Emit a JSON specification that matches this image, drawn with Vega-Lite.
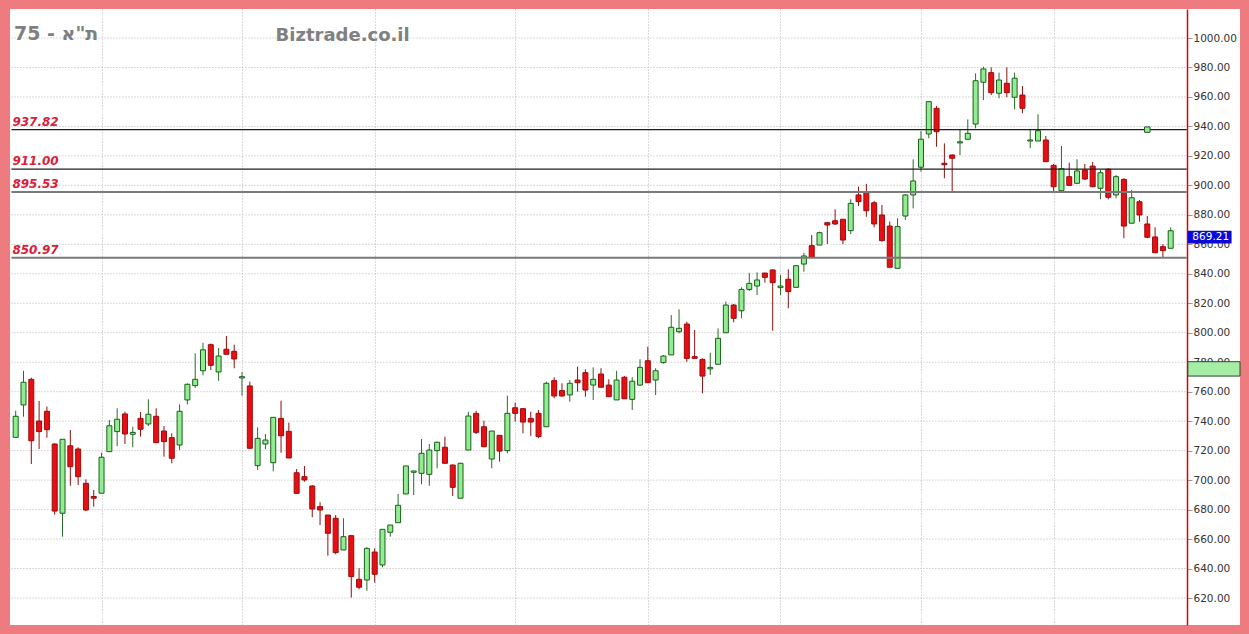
{
  "$schema": "https://vega.github.io/schema/vega-lite/v6.json",
  "width": 1230,
  "height": 616,
  "autosize": {"type": "none"},
  "padding": {"left": 10, "top": 9, "right": 9, "bottom": 9},
  "background": "#ee7b80",
  "config": {
    "view": {"fill": "white", "stroke": null},
    "font": "DejaVu Sans",
    "axis": {"labelOverlap": false, "labelBound": false, "labelFlush": false},
    "axisY": {"labelOverlap": false, "labelFontSize": 10.5, "labelColor": "#333333", "tickColor": "#9a9a9a", "tickSize": 5, "labelPadding": 1, "domainColor": "#e00000", "domainWidth": 1.5}
  },
  "title": {"text": "75 - ת\"א", "anchor": "start", "frame": "group", "orient": "top", "offset": 0, "baseline": "alphabetic", "dx": 4, "dy": 50, "fontSize": 19, "fontWeight": "bold", "color": "#7f7f7f", "font": "DejaVu Sans"},
  "datasets": {
    "candles": [
      {"i":0,"o":729,"h":747.1,"l":729,"c":743.3},
      {"i":1,"o":751,"h":774.2,"l":743,"c":766.4},
      {"i":2,"o":768.4,"h":769.5,"l":710.9,"c":726.7},
      {"i":3,"o":740.1,"h":753.7,"l":721.1,"c":732.9},
      {"i":4,"o":746.7,"h":749.9,"l":728.8,"c":734.2},
      {"i":5,"o":724.5,"h":725,"l":676.5,"c":679},
      {"i":6,"o":677.5,"h":727.7,"l":661.6,"c":727.7},
      {"i":7,"o":723.3,"h":734,"l":696.2,"c":709.1},
      {"i":8,"o":721.1,"h":722.3,"l":696.7,"c":702.3},
      {"i":9,"o":697.8,"h":700.5,"l":679,"c":679.7},
      {"i":10,"o":688.9,"h":693.3,"l":682,"c":687.7},
      {"i":11,"o":691.1,"h":718.6,"l":691.1,"c":715.5},
      {"i":12,"o":719.3,"h":740.8,"l":719.3,"c":736.9},
      {"i":13,"o":732.9,"h":748.7,"l":723.1,"c":741.3},
      {"i":14,"o":744.9,"h":746.4,"l":724.5,"c":731.3},
      {"i":15,"o":731.1,"h":736.2,"l":722.3,"c":732.4},
      {"i":16,"o":741.9,"h":746.2,"l":729.5,"c":734.5},
      {"i":17,"o":738.1,"h":754.8,"l":736.7,"c":744.7},
      {"i":18,"o":743.3,"h":748.7,"l":725.4,"c":725.4},
      {"i":19,"o":733.3,"h":736.7,"l":715.9,"c":726.1},
      {"i":20,"o":728.8,"h":731.8,"l":711.4,"c":714.8},
      {"i":21,"o":723.8,"h":751.4,"l":720.4,"c":746.7},
      {"i":22,"o":754.4,"h":765.7,"l":751.4,"c":765},
      {"i":23,"o":764.1,"h":786,"l":762.7,"c":768.4},
      {"i":24,"o":774.2,"h":793.2,"l":771.1,"c":788.4},
      {"i":25,"o":791.9,"h":792.7,"l":774.7,"c":777.9},
      {"i":26,"o":773.4,"h":789.6,"l":767.4,"c":784.2},
      {"i":27,"o":788.8,"h":797.8,"l":785.4,"c":785.4},
      {"i":28,"o":787.4,"h":791.9,"l":775.9,"c":782.2},
      {"i":29,"o":769.3,"h":773.4,"l":757.3,"c":770.2},
      {"i":30,"o":763.9,"h":766.8,"l":721.6,"c":721.6},
      {"i":31,"o":709.8,"h":735.8,"l":706.9,"c":728.3},
      {"i":32,"o":724.5,"h":731.3,"l":720.9,"c":727.2},
      {"i":33,"o":711.8,"h":742.6,"l":706,"c":742.6},
      {"i":34,"o":741.9,"h":753.9,"l":718.6,"c":730.1},
      {"i":35,"o":733.1,"h":739,"l":715,"c":715},
      {"i":36,"o":705,"h":707.5,"l":691,"c":691},
      {"i":37,"o":702.3,"h":709.6,"l":698.9,"c":700.1},
      {"i":38,"o":696,"h":696.7,"l":674.8,"c":680.4},
      {"i":39,"o":682,"h":685,"l":669.5,"c":679.7},
      {"i":40,"o":676.3,"h":676.3,"l":648.7,"c":663.9},
      {"i":41,"o":674.1,"h":676.3,"l":649.7,"c":650.8},
      {"i":42,"o":652.6,"h":674.1,"l":652.6,"c":661.6},
      {"i":43,"o":662.3,"h":662.8,"l":620.3,"c":634.5},
      {"i":44,"o":632.7,"h":640.2,"l":625.9,"c":627.3},
      {"i":45,"o":632.2,"h":654.4,"l":624.9,"c":653.7},
      {"i":46,"o":651.2,"h":653.7,"l":630.4,"c":636.1},
      {"i":47,"o":642.4,"h":666.6,"l":640.8,"c":666.6},
      {"i":48,"o":664.6,"h":669.5,"l":661.6,"c":669.5},
      {"i":49,"o":671.1,"h":690.6,"l":671.1,"c":682.9},
      {"i":50,"o":690.6,"h":709.6,"l":690.6,"c":709.6},
      {"i":51,"o":705.3,"h":706.2,"l":689.9,"c":706.2},
      {"i":52,"o":704.6,"h":727.9,"l":697.2,"c":718.2},
      {"i":53,"o":703.9,"h":724.5,"l":696.2,"c":720.4},
      {"i":54,"o":720,"h":726.1,"l":708,"c":725.7},
      {"i":55,"o":722.3,"h":729.5,"l":711.4,"c":711.4},
      {"i":56,"o":710.2,"h":710.7,"l":689.2,"c":695.1},
      {"i":57,"o":687.7,"h":711.8,"l":687.7,"c":711.4},
      {"i":58,"o":720.4,"h":746.4,"l":720.4,"c":743.5},
      {"i":59,"o":745.3,"h":747.1,"l":731.3,"c":732.4},
      {"i":60,"o":736.2,"h":740.3,"l":722.3,"c":722.7},
      {"i":61,"o":714.3,"h":733.5,"l":708,"c":733.3},
      {"i":62,"o":730.4,"h":730.6,"l":712.5,"c":719.7},
      {"i":63,"o":720,"h":757.3,"l":718.2,"c":745.3},
      {"i":64,"o":749.1,"h":752.5,"l":739.6,"c":745.3},
      {"i":65,"o":748.5,"h":748.7,"l":731.8,"c":739.4},
      {"i":66,"o":741.9,"h":746.4,"l":730,"c":739.4},
      {"i":67,"o":745.3,"h":747.6,"l":728.4,"c":729.5},
      {"i":68,"o":736.2,"h":766.8,"l":736.2,"c":765.7},
      {"i":69,"o":767.5,"h":769.8,"l":755.5,"c":757.1},
      {"i":70,"o":760.7,"h":765.7,"l":756.6,"c":757.1},
      {"i":71,"o":757.8,"h":767.9,"l":753.2,"c":765.7},
      {"i":72,"o":767.9,"h":777,"l":760,"c":766.1},
      {"i":73,"o":772.9,"h":775.2,"l":756.6,"c":761.1},
      {"i":74,"o":764.5,"h":776.5,"l":754.4,"c":768.4},
      {"i":75,"o":772,"h":775.9,"l":763,"c":763},
      {"i":76,"o":764.5,"h":768.4,"l":756.6,"c":756.6},
      {"i":77,"o":754.4,"h":774.2,"l":754.4,"c":767.9},
      {"i":78,"o":769.8,"h":770.6,"l":755.2,"c":755.2},
      {"i":79,"o":754.8,"h":769.8,"l":747.6,"c":767.1},
      {"i":80,"o":764.5,"h":782,"l":763.9,"c":776.5},
      {"i":81,"o":781,"h":790.5,"l":766.1,"c":766.1},
      {"i":82,"o":767.9,"h":775.9,"l":757.7,"c":774.2},
      {"i":83,"o":779.7,"h":784.9,"l":779,"c":784.2},
      {"i":84,"o":785,"h":812,"l":784.9,"c":803.7},
      {"i":85,"o":800.7,"h":815.9,"l":799.6,"c":803},
      {"i":86,"o":805.9,"h":807.5,"l":780.3,"c":782.6},
      {"i":87,"o":783.8,"h":801.9,"l":782.6,"c":782.6},
      {"i":88,"o":781.9,"h":782.6,"l":758.9,"c":770.6},
      {"i":89,"o":775.5,"h":786.4,"l":771.3,"c":776.5},
      {"i":90,"o":778.6,"h":803,"l":778.6,"c":796.2},
      {"i":91,"o":800,"h":821.1,"l":800,"c":818.8},
      {"i":92,"o":818.8,"h":819.5,"l":807.1,"c":809.8},
      {"i":93,"o":814.9,"h":830.8,"l":809.8,"c":829.4},
      {"i":94,"o":829.4,"h":840.7,"l":828.3,"c":833.5},
      {"i":95,"o":831.7,"h":841,"l":825.6,"c":835.8},
      {"i":96,"o":840.5,"h":840.7,"l":834,"c":837.6},
      {"i":97,"o":842.6,"h":843,"l":801.4,"c":834},
      {"i":98,"o":830.6,"h":839.2,"l":825.6,"c":831.7},
      {"i":99,"o":836.3,"h":843,"l":816.6,"c":827.9},
      {"i":100,"o":830.8,"h":846,"l":830.8,"c":845.5},
      {"i":101,"o":846.6,"h":854.3,"l":841.4,"c":852.1},
      {"i":102,"o":859.1,"h":866.3,"l":851.2,"c":851.2},
      {"i":103,"o":859.5,"h":868.6,"l":859.5,"c":867.9},
      {"i":104,"o":874.7,"h":874.7,"l":860.2,"c":873.1},
      {"i":105,"o":876,"h":883.8,"l":873.1,"c":873.8},
      {"i":106,"o":877,"h":877,"l":860.2,"c":862.9},
      {"i":107,"o":869.3,"h":890.6,"l":867,"c":887.8},
      {"i":108,"o":893.5,"h":899.1,"l":886,"c":889},
      {"i":109,"o":895.3,"h":901,"l":878.7,"c":882.8},
      {"i":110,"o":888.2,"h":889.5,"l":871.5,"c":873.8},
      {"i":111,"o":879.9,"h":886.7,"l":861.8,"c":862.5},
      {"i":112,"o":872.4,"h":875.4,"l":844.4,"c":844.4},
      {"i":113,"o":843.7,"h":877.7,"l":843.7,"c":872},
      {"i":114,"o":879.2,"h":894.1,"l":876.5,"c":893.5},
      {"i":115,"o":893.5,"h":917.7,"l":884.4,"c":903},
      {"i":116,"o":912.3,"h":936.9,"l":909.3,"c":931.3},
      {"i":117,"o":934.9,"h":956.8,"l":932,"c":956.8},
      {"i":118,"o":952.3,"h":953.9,"l":926.2,"c":936.4},
      {"i":119,"o":915,"h":928.5,"l":904.8,"c":914},
      {"i":120,"o":920.6,"h":921.1,"l":895.7,"c":918.4},
      {"i":121,"o":928.8,"h":938,"l":920.6,"c":929.6},
      {"i":122,"o":931.3,"h":944.8,"l":931.3,"c":935.3},
      {"i":123,"o":941.6,"h":976,"l":938.7,"c":971},
      {"i":124,"o":970,"h":980.5,"l":957.9,"c":979},
      {"i":125,"o":976.5,"h":980.1,"l":961.3,"c":962.9},
      {"i":126,"o":962.5,"h":976.5,"l":959.1,"c":971.5},
      {"i":127,"o":969.3,"h":980.1,"l":959.8,"c":962.9},
      {"i":128,"o":959.8,"h":976.5,"l":951.6,"c":972.7},
      {"i":129,"o":961.3,"h":967.4,"l":948.9,"c":952.3},
      {"i":130,"o":930.1,"h":938,"l":925.2,"c":930.8},
      {"i":131,"o":930.1,"h":948.2,"l":930.1,"c":937.1},
      {"i":132,"o":930.8,"h":933.5,"l":916.1,"c":916.1},
      {"i":133,"o":913.6,"h":914.5,"l":895.7,"c":899.1},
      {"i":134,"o":896.4,"h":926.7,"l":895.7,"c":911.3},
      {"i":135,"o":905.9,"h":915.4,"l":899.6,"c":900},
      {"i":136,"o":901.4,"h":917.7,"l":900.9,"c":909.8},
      {"i":137,"o":910.4,"h":914.5,"l":903.6,"c":904.3},
      {"i":138,"o":913.1,"h":915.9,"l":898.7,"c":899.1},
      {"i":139,"o":898,"h":910.4,"l":890.5,"c":908.6},
      {"i":140,"o":910.9,"h":911.6,"l":890.5,"c":891.9},
      {"i":141,"o":893.5,"h":907,"l":891.2,"c":905.9},
      {"i":142,"o":904.1,"h":904.8,"l":864.1,"c":872.4},
      {"i":143,"o":874.3,"h":896.9,"l":874.3,"c":891.6},
      {"i":144,"o":888.9,"h":890.1,"l":875.3,"c":879.9},
      {"i":145,"o":873.8,"h":879.2,"l":864.1,"c":864.8},
      {"i":146,"o":865,"h":871.5,"l":853.9,"c":854.3},
      {"i":147,"o":858.4,"h":860.2,"l":851.2,"c":855.7},
      {"i":148,"o":857.3,"h":871.5,"l":857.3,"c":869.21}
    ],
    "levels": [
      {"v": 937.82, "type": "A"},
      {"v": 911.00, "type": "A"},
      {"v": 895.53, "type": "B"},
      {"v": 850.97, "type": "B"}
    ],
    "ygrid": [
      {"v":620},{"v":640},{"v":660},{"v":680},{"v":700},{"v":720},{"v":740},{"v":760},{"v":780},{"v":800},
      {"v":820},{"v":840},{"v":860},{"v":880},{"v":900},{"v":920},{"v":940},{"v":960},{"v":980},{"v":1000}
    ],
    "signals": [{"i": 145, "v": 937.82}]
  },
  "layer": [
    {
      "data": {"name": "ygrid"},
      "mark": {"type": "rule", "color": "#b4b4b4", "strokeWidth": 1, "strokeDash": [1, 2]},
      "encoding": {
        "x": {"datum": -0.55, "type": "quantitative", "scale": {"domain": [-0.73, 156.88], "nice": false, "zero": false, "padding": 0}, "axis": {"values": [11, 29, 46, 64, 81, 98, 116, 133], "grid": true, "gridDash": [1, 2], "gridColor": "#b4b4b4", "gridWidth": 1, "labels": false, "ticks": false, "domain": false, "title": null}},
        "x2": {"datum": 150.05},
        "y": {"field": "v", "type": "quantitative", "scale": {"domain": [601.68, 1019.68], "nice": false, "zero": false, "padding": 0}, "axis": {"orient": "right", "offset": -53, "values": [620, 640, 660, 680, 700, 720, 740, 760, 780, 800, 820, 840, 860, 880, 900, 920, 940, 960, 980, 1000], "format": ".2f", "grid": false, "labelOverlap": false, "labelBound": false, "labelFlush": false, "title": null}}
      }
    },
    {
      "data": {"name": "candles"},
      "mark": {"type": "rule", "strokeWidth": 1},
      "encoding": {
        "x": {"field": "i", "type": "quantitative", "axis": {"values": [11, 29, 46, 64, 81, 98, 116, 133], "grid": true, "gridDash": [1, 2], "gridColor": "#b4b4b4", "gridWidth": 1, "labels": false, "ticks": false, "domain": false, "title": null}},
        "y": {"field": "l", "type": "quantitative", "axis": {"orient": "right", "offset": -53, "values": [620, 640, 660, 680, 700, 720, 740, 760, 780, 800, 820, 840, 860, 880, 900, 920, 940, 960, 980, 1000], "format": ".2f", "grid": false, "labelOverlap": false, "labelBound": false, "labelFlush": false, "title": null}},
        "y2": {"field": "h"},
        "color": {"condition": {"test": "datum.c >= datum.o", "value": "#2a6a2a"}, "value": "#8a1010"}
      }
    },
    {
      "data": {"name": "candles"},
      "mark": {"type": "bar", "size": 5, "strokeWidth": 1},
      "encoding": {
        "x": {"field": "i", "type": "quantitative", "axis": {"values": [11, 29, 46, 64, 81, 98, 116, 133], "grid": true, "gridDash": [1, 2], "gridColor": "#b4b4b4", "gridWidth": 1, "labels": false, "ticks": false, "domain": false, "title": null}},
        "y": {"field": "o", "type": "quantitative", "axis": {"orient": "right", "offset": -53, "values": [620, 640, 660, 680, 700, 720, 740, 760, 780, 800, 820, 840, 860, 880, 900, 920, 940, 960, 980, 1000], "format": ".2f", "grid": false, "labelOverlap": false, "labelBound": false, "labelFlush": false, "title": null}},
        "y2": {"field": "c"},
        "fill": {"condition": {"test": "datum.c >= datum.o", "value": "#90ee90"}, "value": "#e60f14"},
        "stroke": {"condition": {"test": "datum.c >= datum.o", "value": "#1d5e1d"}, "value": "#9e0a0a"}
      }
    },
    {
      "data": {"name": "levels"},
      "mark": {"type": "rule"},
      "encoding": {
        "x": {"datum": -0.55, "type": "quantitative", "axis": {"values": [11, 29, 46, 64, 81, 98, 116, 133], "grid": true, "gridDash": [1, 2], "gridColor": "#b4b4b4", "gridWidth": 1, "labels": false, "ticks": false, "domain": false, "title": null}},
        "x2": {"datum": 150.05},
        "y": {"field": "v", "type": "quantitative", "axis": {"orient": "right", "offset": -53, "values": [620, 640, 660, 680, 700, 720, 740, 760, 780, 800, 820, 840, 860, 880, 900, 920, 940, 960, 980, 1000], "format": ".2f", "grid": false, "labelOverlap": false, "labelBound": false, "labelFlush": false, "title": null}},
        "color": {"condition": {"test": "datum.type === 'A'", "value": "#1e1e1e"}, "value": "#7a7a7a"},
        "strokeWidth": {"condition": {"test": "datum.type === 'A'", "value": 1.2}, "value": 2}
      }
    },
    {
      "data": {"name": "levels"},
      "mark": {"type": "text", "align": "left", "baseline": "alphabetic", "dx": 1, "dy": -4, "font": "DejaVu Sans", "fontSize": 12, "fontWeight": "bold", "fontStyle": "italic", "color": "#d81e3a"},
      "encoding": {
        "x": {"datum": -0.55, "type": "quantitative", "axis": {"values": [11, 29, 46, 64, 81, 98, 116, 133], "grid": true, "gridDash": [1, 2], "gridColor": "#b4b4b4", "gridWidth": 1, "labels": false, "ticks": false, "domain": false, "title": null}},
        "y": {"field": "v", "type": "quantitative", "axis": {"orient": "right", "offset": -53, "values": [620, 640, 660, 680, 700, 720, 740, 760, 780, 800, 820, 840, 860, 880, 900, 920, 940, 960, 980, 1000], "format": ".2f", "grid": false, "labelOverlap": false, "labelBound": false, "labelFlush": false, "title": null}},
        "text": {"field": "v", "type": "quantitative", "format": ".2f"}
      }
    },
    {
      "data": {"name": "signals"},
      "mark": {"type": "point", "shape": "square", "filled": true, "size": 30, "fill": "#90ee90", "stroke": "#2a5a2a", "strokeWidth": 1, "opacity": 1},
      "encoding": {
        "x": {"field": "i", "type": "quantitative", "axis": {"values": [11, 29, 46, 64, 81, 98, 116, 133], "grid": true, "gridDash": [1, 2], "gridColor": "#b4b4b4", "gridWidth": 1, "labels": false, "ticks": false, "domain": false, "title": null}},
        "y": {"field": "v", "type": "quantitative", "axis": {"orient": "right", "offset": -53, "values": [620, 640, 660, 680, 700, 720, 740, 760, 780, 800, 820, 840, 860, 880, 900, 920, 940, 960, 980, 1000], "format": ".2f", "grid": false, "labelOverlap": false, "labelBound": false, "labelFlush": false, "title": null}}
      }
    },
    {
      "data": {"values": [{"t": "Biztrade.co.il"}]},
      "mark": {"type": "text", "align": "left", "baseline": "alphabetic", "font": "DejaVu Sans", "fontSize": 18, "fontWeight": "bold", "color": "#808080"},
      "encoding": {
        "x": {"datum": 33.3, "type": "quantitative", "axis": {"values": [11, 29, 46, 64, 81, 98, 116, 133], "grid": true, "gridDash": [1, 2], "gridColor": "#b4b4b4", "gridWidth": 1, "labels": false, "ticks": false, "domain": false, "title": null}},
        "y": {"datum": 998.2, "type": "quantitative", "axis": {"orient": "right", "offset": -53, "values": [620, 640, 660, 680, 700, 720, 740, 760, 780, 800, 820, 840, 860, 880, 900, 920, 940, 960, 980, 1000], "format": ".2f", "grid": false, "labelOverlap": false, "labelBound": false, "labelFlush": false, "title": null}},
        "text": {"field": "t"}
      }
    },
    {
      "data": {"values": [{"v": 780.35, "v2": 770.6}]},
      "mark": {"type": "rect", "fill": "#a6eea6", "stroke": "#2a4a2a", "strokeWidth": 1},
      "encoding": {
        "x": {"datum": 150.2, "type": "quantitative", "axis": {"values": [11, 29, 46, 64, 81, 98, 116, 133], "grid": true, "gridDash": [1, 2], "gridColor": "#b4b4b4", "gridWidth": 1, "labels": false, "ticks": false, "domain": false, "title": null}},
        "x2": {"datum": 156.88},
        "y": {"field": "v", "type": "quantitative", "axis": {"orient": "right", "offset": -53, "values": [620, 640, 660, 680, 700, 720, 740, 760, 780, 800, 820, 840, 860, 880, 900, 920, 940, 960, 980, 1000], "format": ".2f", "grid": false, "labelOverlap": false, "labelBound": false, "labelFlush": false, "title": null}},
        "y2": {"field": "v2"}
      }
    },
    {
      "data": {"name": "candles"},
      "transform": [{"filter": "datum.i == 148"}],
      "layer": [
        {
          "mark": {"type": "rect", "fill": "#0a0ad2"},
          "encoding": {
            "x": {"datum": 150.2, "type": "quantitative", "axis": {"values": [11, 29, 46, 64, 81, 98, 116, 133], "grid": true, "gridDash": [1, 2], "gridColor": "#b4b4b4", "gridWidth": 1, "labels": false, "ticks": false, "domain": false, "title": null}},
            "x2": {"datum": 155.8},
            "y": {"field": "c", "type": "quantitative", "axis": {"orient": "right", "offset": -53, "values": [620, 640, 660, 680, 700, 720, 740, 760, 780, 800, 820, 840, 860, 880, 900, 920, 940, 960, 980, 1000], "format": ".2f", "grid": false, "labelOverlap": false, "labelBound": false, "labelFlush": false, "title": null}},
            "y2": {"datum": 860.6}
          }
        },
        {
          "mark": {"type": "text", "align": "left", "baseline": "middle", "dx": 4.5, "dy": 6.5, "font": "DejaVu Sans", "fontSize": 10.5, "color": "white"},
          "encoding": {
            "x": {"datum": 150.2, "type": "quantitative", "axis": {"values": [11, 29, 46, 64, 81, 98, 116, 133], "grid": true, "gridDash": [1, 2], "gridColor": "#b4b4b4", "gridWidth": 1, "labels": false, "ticks": false, "domain": false, "title": null}},
            "y": {"field": "c", "type": "quantitative", "axis": {"orient": "right", "offset": -53, "values": [620, 640, 660, 680, 700, 720, 740, 760, 780, 800, 820, 840, 860, 880, 900, 920, 940, 960, 980, 1000], "format": ".2f", "grid": false, "labelOverlap": false, "labelBound": false, "labelFlush": false, "title": null}},
            "text": {"field": "c", "type": "quantitative", "format": ".2f"}
          }
        }
      ]
    },
    {
      "mark": {"type": "rule", "color": "#111111", "strokeWidth": 1.5},
      "encoding": {"x": {"datum": -0.55, "type": "quantitative", "axis": {"values": [11, 29, 46, 64, 81, 98, 116, 133], "grid": true, "gridDash": [1, 2], "gridColor": "#b4b4b4", "gridWidth": 1, "labels": false, "ticks": false, "domain": false, "title": null}}}
    }
  ]
}
